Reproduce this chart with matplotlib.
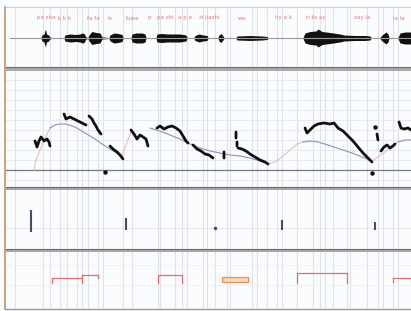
import numpy as np
import matplotlib
matplotlib.use("Agg")
import matplotlib.pyplot as plt
from matplotlib.patches import Rectangle

# time axis: seconds
# segment boundaries (light vertical lines through all tiers)
bounds_t = [0.15, 0.43, 0.50, 0.60, 0.67, 0.77, 0.82, 0.88, 0.98, 1.03, 1.23,
            1.32, 1.58, 1.60, 1.75, 1.82, 1.87, 2.03, 2.07, 2.15, 2.27, 2.30,
            2.52, 2.57, 2.67, 2.77, 2.82, 2.97, 3.13, 3.20, 3.25, 3.33, 3.47,
            3.50, 3.67, 3.78, 3.83, 3.93, 3.98]

# transcription on top tier
words_t = [0.37, 0.58, 0.87, 1.08, 1.26, 1.47, 1.57, 1.78, 1.99, 2.38,
           2.75, 3.06, 3.54, 3.93]
words = ['pa sha', 'k k k', 'fa fa', 'ts', 'tuwa', 'p', 'pa zhi', 'a p a',
         'zi jiazhi', 'wu', 'hy a k', 'ri ta ay', 'zay la', 'la la']

# waveform envelope (half amplitude)
env_t = [0.10, 0.41, 0.42, 0.44, 0.455, 0.465, 0.48, 0.50, 0.51,
         0.64, 0.65, 0.70, 0.76, 0.80, 0.82, 0.84, 0.86, 0.88,
         0.89, 0.92, 0.96, 1.00, 1.02, 1.09,
         1.10, 1.14, 1.18, 1.22, 1.23,
         1.31, 1.32, 1.36, 1.42, 1.45, 1.46,
         1.56, 1.57, 1.62, 1.67, 1.72, 1.80, 1.86, 1.87,
         1.94, 1.95, 1.99, 2.03, 2.07, 2.08,
         2.18, 2.19, 2.21, 2.23, 2.24,
         2.36, 2.37, 2.50, 2.62, 2.67, 2.68,
         3.03, 3.05, 3.10, 3.16, 3.18, 3.22, 3.30, 3.40, 3.44, 3.55, 3.65,
         3.70, 3.71,
         3.80, 3.82, 3.86, 3.88, 3.89,
         3.98, 4.00, 4.05, 4.11]
env_amp = [0.5, 0.5, 3, 4, 9, 4, 3.5, 1, 0.5,
           0.5, 3, 4, 3.5, 4, 5, 4.5, 1, 0.5,
           3, 6.5, 5.5, 5, 1, 0.5,
           3, 5, 4.5, 3.5, 0.5,
           0.5, 4, 5, 5, 4, 0.5,
           0.5, 4, 4.5, 4, 4, 4, 3, 0.5,
           0.5, 2.5, 4, 3, 2.5, 0.5,
           0.5, 3, 4.5, 2, 0.5,
           0.5, 2, 2.5, 2, 1.5, 0.5,
           0.5, 5, 6.5, 7, 9, 6.5, 5.5, 4, 3, 2.5, 2.5,
           2, 0.5,
           0.5, 3, 6, 4, 0.5,
           0.5, 5, 6, 6]

# measured pitch (nan = break)
nan = np.nan
pitch_t = [0.35, 0.37, 0.39, 0.41, 0.44, 0.47, 0.49, 0.50, nan,
           0.64, 0.66, 0.70, 0.74, 0.78, 0.82, 0.86, nan,
           0.89, 0.92, 0.94, 0.96, 0.98, 1.01, nan,
           1.10, 1.13, 1.17, 1.20, 1.23, nan,
           1.31, 1.34, 1.37, 1.40, 1.43, 1.46, 1.48, nan,
           1.57, 1.60, 1.64, 1.68, 1.72, 1.76, 1.80, 1.83, 1.86, 1.88, nan,
           1.93, 1.97, 2.01, 2.05, 2.09, 2.13, nan,
           2.24, 2.24, nan,
           2.36, 2.36, nan, 2.37, 2.37, nan,
           2.38, 2.42, 2.46, 2.50, 2.55, 2.60, 2.65, 2.68, nan,
           3.05, 3.07, 3.10, 3.14, 3.18, 3.24, 3.30, 3.34, 3.38, 3.43, 3.48,
           3.53, 3.58, 3.63, 3.68, 3.72, nan,
           3.77, 3.78, nan,
           3.81, 3.84, 3.87, 3.90, 3.93, 3.95, nan,
           3.99, 4.01, 4.04, 4.08, 4.11]
pitch_v = [46, 40, 46, 50, 46, 48, 45, 41, nan,
           73, 68, 70, 68, 66, 64, 62, nan,
           71, 68, 64, 61, 57, 53, nan,
           41, 38, 35, 32, 28, nan,
           57, 53, 48, 52, 50, 48, 41, nan,
           59, 61, 58, 60, 61, 59, 56, 51, 46, 44, nan,
           42, 38, 36, 33, 32, 29, nan,
           35, 29, nan,
           55, 49, nan, 45, 41, nan,
           39, 38, 36, 33, 30, 27, 25, 23, nan,
           59, 54, 57, 61, 63, 64, 63, 64, 59, 56, 51,
           46, 40, 34, 29, 25, nan,
           53, 47, nan,
           36, 40, 42, 39, 41, 43, nan,
           65, 59, 58, 59, 57]
dots_t = [1.05, 3.72, 3.75]
dots_v = [15, 14, 60]

# stylised pitch: falls (blue) and rises (pink)
fall_t = [0.50, 0.55, 0.60, 0.66, 0.75, 0.85, 0.95, 1.05, 1.15, 1.22, nan,
          1.50, 1.60, 1.70, 1.80, 1.90, 2.00, 2.10, 2.20, 2.30, 2.40, 2.50,
          2.60, 2.68, nan,
          3.03, 3.10, 3.18, 3.28, 3.40, 3.52, 3.62, 3.72, nan,
          3.98, 4.05, 4.11]
fall_v = [59, 62, 63, 63, 60, 54, 48, 41, 35, 31, nan,
          59, 56, 52, 48, 43, 39, 36, 34, 32, 31, 29,
          26, 23, nan,
          45, 46, 45, 42, 38, 34, 30, 26, nan,
          45, 47, 47]
rise_t = [0.34, 0.36, 0.40, 0.45, 0.50, nan,
          1.22, 1.27, 1.31, nan,
          2.68, 2.75, 2.82, 2.90, 2.97, 3.03, nan,
          3.72, 3.78, 3.85, 3.92, 3.98]
rise_v = [17, 27, 37, 49, 59, nan,
          31, 45, 55, nan,
          23, 25, 30, 37, 43, 45, nan,
          26, 30, 35, 41, 45]

# tier 3 marks
mark_t = [0.31, 1.26, 2.82, 3.75]
mark_lo = [17, 19, 19, 19]
mark_hi = [39, 31, 29, 27]
mark_dot_t = 2.15
mark_dot_v = 21

# tier 4 brackets
br_t0 = [0.52, 0.82, 1.58, 2.97, 3.93]
br_t1 = [0.82, 0.98, 1.82, 3.47, 4.11]
br_top = [30, 33, 33, 35, 30]
br_bot = [25, 30, 25, 25, 26]
box_t = (2.22, 2.48)
box_v = (26, 31)

W, H = 411, 311
fig = plt.figure(figsize=(W / 100, H / 100), dpi=100)
fig.patch.set_facecolor('#fbfcfe')

XLIM = (0.06, 4.11)
grid_c = '#e0e2ea'


def tier(top, bottom, ylim):
    ax = fig.add_axes([6 / W, 1 - bottom / H, (W - 6) / W, (bottom - top) / H])
    ax.set_xlim(*XLIM)
    ax.set_ylim(*ylim)
    ax.axis('off')
    for t in bounds_t:
        ax.axvline(t, color=grid_c, lw=0.8, zorder=0)
    return ax


# tier 1: waveform + words
ax1 = tier(8, 67, (-29, 30))
ax1.plot([0.10, 4.11], [0, 0], color='#9a9a9a', lw=0.8)
ax1.fill_between(env_t, [-a for a in env_amp], env_amp, color='#111111', lw=0)
for t, w in zip(words_t, words):
    ax1.text(t, 20, w, color='#e27c7c', fontsize=4.0, ha='left', va='center')

# tier 2: pitch
ax2 = tier(71, 187, (0, 116))
for v in [7, 27, 37, 47, 57, 67, 77, 87, 97, 107]:
    ax2.axhline(v, color='#e6e9f1', lw=0.7, zorder=0)
ax2.axhline(17, color='#777777', lw=0.9)
ax2.plot(rise_t, rise_v, color='#e8bcc8', lw=0.8)
ax2.plot(fall_t, fall_v, color='#8c90b4', lw=0.8)
ax2.plot(pitch_t, pitch_v, color='#111111', lw=2.0, solid_capstyle='round',
         solid_joinstyle='round')
ax2.plot(dots_t, dots_v, 'o', color='#111111', ms=2.2)

# tier 3: marks
ax3 = tier(190, 249, (0, 59))
ax3.axhline(21, color='#efe2e8', lw=0.7, zorder=0)
ax3.vlines(mark_t, mark_lo, mark_hi, color='#464c6c', lw=1.5)
ax3.plot([mark_dot_t], [mark_dot_v], 'o', color='#464c6c', ms=1.5)

# tier 4: brackets
ax4 = tier(252, 308, (0, 56))
for v in [23, 43]:
    ax4.axhline(v, color='#eef0f5', lw=0.7, zorder=0)
for a, b, top, bot in zip(br_t0, br_t1, br_top, br_bot):
    ax4.plot([a, a, b, b], [bot, top, top, bot], color='#e07070', lw=0.9)
ax4.add_patch(Rectangle((box_t[0], box_v[0]), box_t[1] - box_t[0],
                        box_v[1] - box_v[0], facecolor='#f8d8c0',
                        edgecolor='#ec9050', lw=0.9))

# frame: separators and left edge, in pixel units
ov = fig.add_axes([0, 0, 1, 1], zorder=10)
ov.set_xlim(0, W)
ov.set_ylim(H, 0)
ov.axis('off')
ov.patch.set_alpha(0)
ov.plot([5, W], [7, 7], color='#d0d0d0', lw=0.8)
for top, bottom in [(67, 71), (187, 190), (249, 252)]:
    ov.add_patch(Rectangle((5, top), W - 5, bottom - top,
                           facecolor='#a9a9a9', edgecolor='none'))
    ov.plot([5, W], [top + 0.3, top + 0.3], color='#6c6c6c', lw=0.8)
ov.plot([5, W], [308.5, 308.5], color='#9a9a9a', lw=1.0)
ov.plot([5, 5], [7, 309], color='#c9a27e', lw=1.4)

fig.savefig('out.png', dpi=100)
